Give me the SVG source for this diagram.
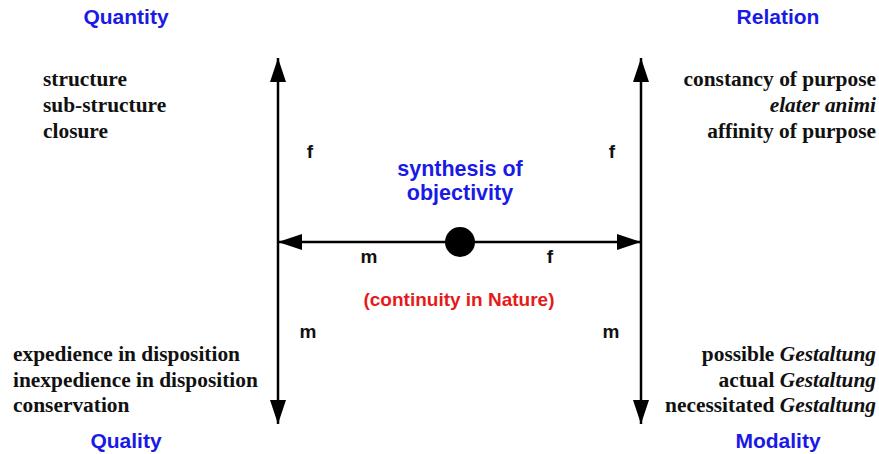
<svg xmlns="http://www.w3.org/2000/svg" width="879" height="454" viewBox="0 0 879 454">
<style>
.h{font-family:"Liberation Sans",Arial,sans-serif;font-weight:bold;font-size:21px;fill:#1a1ae6;text-anchor:middle}
.s{font-family:"Liberation Serif","Times New Roman",serif;font-weight:bold;font-size:21.4px;fill:#111}
.r{text-anchor:end}
.lb{font-family:"Liberation Sans",Arial,sans-serif;font-weight:bold;font-size:19px;fill:#111;text-anchor:middle}
.c{font-family:"Liberation Sans",Arial,sans-serif;font-weight:bold;font-size:21.5px;text-anchor:middle}
.ln{stroke:#000;stroke-width:2.5;fill:none}
</style>
<defs>
<marker id="ah" viewBox="0 0 24 16" refX="24" refY="8" markerWidth="24" markerHeight="16" markerUnits="userSpaceOnUse" orient="auto">
<path d="M0,0 L24,8 L0,16 Z" fill="#000"/>
</marker>
</defs>
<rect width="879" height="454" fill="#fff"/>
<g id="connectors">
<line class="ln" x1="278" y1="242" x2="278" y2="58" marker-end="url(#ah)"/>
<line class="ln" x1="278" y1="242" x2="278" y2="424" marker-end="url(#ah)"/>
<line class="ln" x1="641" y1="242" x2="641" y2="58" marker-end="url(#ah)"/>
<line class="ln" x1="641" y1="242" x2="641" y2="424" marker-end="url(#ah)"/>
<line class="ln" x1="460" y1="242" x2="278" y2="242" marker-end="url(#ah)"/>
<line class="ln" x1="460" y1="242" x2="641" y2="242" marker-end="url(#ah)"/>
<text class="lb" x="310" y="158">f</text>
<text class="lb" x="612" y="158">f</text>
<text class="lb" x="308" y="338">m</text>
<text class="lb" x="611" y="338">m</text>
<text class="lb" x="369" y="263">m</text>
<text class="lb" x="550" y="263">f</text>
</g>
<g id="center">
<circle cx="460" cy="242" r="15" fill="#000"/>
<text class="c" x="460" y="176" fill="#1a1ae6">synthesis of</text>
<text class="c" x="460" y="200" fill="#1a1ae6">objectivity</text>
<text class="c" x="459" y="306" fill="#e61a1a" style="font-size:19px">(continuity in Nature)</text>
</g>
<g id="quantity">
<text class="h" x="126" y="24">Quantity</text>
<text class="s" x="43" y="86">structure</text>
<text class="s" x="43" y="112">sub-structure</text>
<text class="s" x="43" y="138">closure</text>
</g>
<g id="relation">
<text class="h" x="778" y="24">Relation</text>
<text class="s r" x="876" y="86">constancy of purpose</text>
<text class="s r" x="876" y="112" font-style="italic">elater animi</text>
<text class="s r" x="876" y="138">affinity of purpose</text>
</g>
<g id="quality">
<text class="h" x="126" y="448">Quality</text>
<text class="s" x="13" y="361">expedience in disposition</text>
<text class="s" x="13" y="387">inexpedience in disposition</text>
<text class="s" x="13" y="412">conservation</text>
</g>
<g id="modality">
<text class="h" x="778" y="448">Modality</text>
<text class="s r" x="876" y="361">possible <tspan font-style="italic">Gestaltung</tspan></text>
<text class="s r" x="876" y="387">actual <tspan font-style="italic">Gestaltung</tspan></text>
<text class="s r" x="876" y="412">necessitated <tspan font-style="italic">Gestaltung</tspan></text>
</g>
</svg>
